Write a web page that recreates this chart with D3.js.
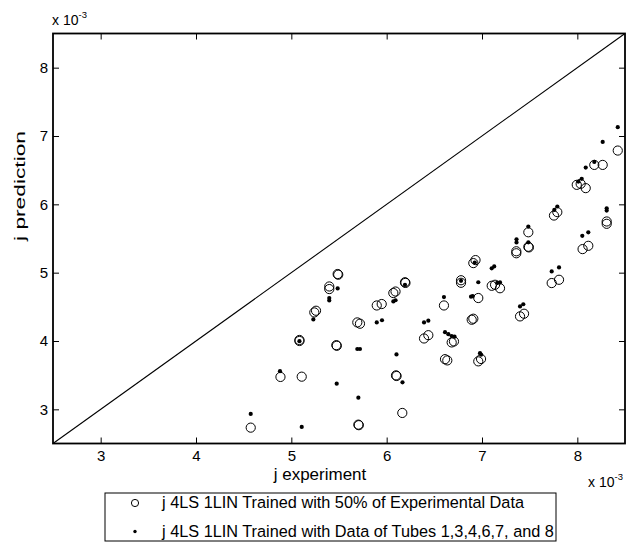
<!DOCTYPE html>
<html>
<head>
<meta charset="utf-8">
<script src="https://cdn.jsdelivr.net/npm/d3@7"></script>
<style>
  html, body { margin: 0; padding: 0; background: #fff; }
  svg { display: block; font-family: "Liberation Sans", Arial, Helvetica, sans-serif; }
</style>
</head>
<body>
<svg id="chart" width="635" height="543"></svg>
<script>
// Values are in units of 1e-3
const ticks = [3, 4, 5, 6, 7, 8];
const domain = [2.5, 8.5];
const diagonal = [2.5, 8.5];

// Series 1: open circles — trained with 50% of experimental data
const circleX = [4.574, 4.886, 5.109, 5.085, 5.085, 5.241, 5.259, 5.398, 5.398, 5.486, 5.492, 5.472, 5.477,
  5.692, 5.720, 5.703, 5.708, 5.896, 5.948, 6.070, 6.093, 6.192, 6.197, 6.098, 6.104, 6.164, 6.392, 6.437,
  6.601, 6.612, 6.636, 6.682, 6.706, 6.780, 6.780, 6.909, 6.932, 6.961, 6.892, 6.909, 6.961, 6.990,
  7.102, 7.137, 7.189, 7.360, 7.360, 7.486, 7.486, 7.492, 7.399, 7.441, 7.731, 7.808, 7.755, 7.790,
  8.055, 8.115, 7.994, 8.035, 8.088, 8.178, 8.266, 8.308, 8.308, 8.424];
const circleY = [2.732, 3.474, 3.478, 4.000, 4.015, 4.418, 4.443, 4.798, 4.760, 4.980, 4.970, 3.939, 3.930,
  4.272, 4.253, 2.776, 2.768, 4.520, 4.541, 4.702, 4.724, 4.860, 4.850, 3.497, 3.488, 2.947, 4.037, 4.085,
  4.520, 3.734, 3.716, 3.979, 3.994, 4.889, 4.852, 5.140, 5.184, 4.629, 4.311, 4.326, 3.702, 3.737,
  4.808, 4.823, 4.772, 5.313, 5.284, 5.591, 5.379, 5.370, 4.360, 4.399, 4.848, 4.896, 5.836, 5.886,
  5.345, 5.393, 6.285, 6.300, 6.237, 6.577, 6.577, 5.749, 5.715, 6.787];

// Series 2: dots — trained with data of tubes 1,3,4,6,7 and 8
const dotX = [4.574, 4.881, 5.109, 5.085, 5.231, 5.398, 5.398, 5.486, 5.476, 5.692, 5.720, 5.703,
  5.896, 5.951, 6.070, 6.093, 6.192, 6.103, 6.166, 6.392, 6.437, 6.601, 6.612, 6.647, 6.682, 6.712,
  6.780, 6.924, 6.961, 6.885, 6.903, 6.979, 6.990, 7.102, 7.128, 7.160, 7.189, 7.362, 7.362, 7.486,
  7.486, 7.399, 7.433, 7.731, 7.808, 7.759, 7.790, 8.052, 8.115, 8.010, 8.046, 8.088, 8.178, 8.266,
  8.308, 8.308, 8.424];
const dotY = [2.933, 3.558, 2.743, 3.997, 4.316, 4.629, 4.594, 4.769, 3.376, 3.883, 3.883, 3.171,
  4.272, 4.304, 4.579, 4.596, 4.823, 3.804, 3.395, 4.272, 4.297, 4.643, 4.129, 4.100, 4.073, 4.063,
  4.881, 5.149, 4.860, 4.648, 4.658, 3.822, 3.800, 5.064, 5.091, 4.852, 4.857, 5.488, 5.442, 5.675,
  5.444, 4.506, 4.538, 5.018, 5.076, 5.920, 5.968, 5.539, 5.591, 6.333, 6.373, 6.538, 6.621, 6.914,
  5.942, 5.909, 7.129];

const legendLabels = [
  "j 4LS 1LIN Trained with 50% of Experimental Data",
  "j 4LS 1LIN Trained with Data of Tubes 1,3,4,6,7, and 8"
];

const svg = d3.select("#chart");
const L = 53, R = 625, T = 33.5, B = 443.5;
const x = d3.scaleLinear().domain(domain).range([L, R]);
const y = d3.scaleLinear().domain(domain).range([B, T]);

const tickFont = "15px";

// Axes
const gx = svg.append("g").attr("transform", `translate(0,${B})`)
  .call(d3.axisBottom(x).tickValues(ticks).tickSizeInner(-6).tickSizeOuter(0).tickPadding(7).tickFormat(d3.format("d")));
const gy = svg.append("g").attr("transform", `translate(${L},0)`)
  .call(d3.axisLeft(y).tickValues(ticks).tickSizeInner(-6).tickSizeOuter(0).tickPadding(5).tickFormat(d3.format("d")));
const gt = svg.append("g").attr("transform", `translate(0,${T})`)
  .call(d3.axisTop(x).tickValues(ticks).tickSizeInner(-6).tickSizeOuter(0).tickFormat(""));
const gr = svg.append("g").attr("transform", `translate(${R},0)`)
  .call(d3.axisRight(y).tickValues(ticks).tickSizeInner(-6).tickSizeOuter(0).tickFormat(""));

[gx, gy, gt, gr].forEach(g => {
  g.select(".domain").remove();
  g.selectAll(".tick line").attr("stroke", "#000").attr("stroke-width", 1);
  g.selectAll(".tick text").attr("fill", "#000").style("font-size", tickFont)
    .style("font-family", "'Liberation Sans', Arial, sans-serif");
});

// Box
svg.append("rect").attr("x", L).attr("y", T).attr("width", R - L).attr("height", B - T)
  .attr("fill", "none").attr("stroke", "#000").attr("stroke-width", 1.8);

// Diagonal
svg.append("line")
  .attr("x1", x(diagonal[0])).attr("y1", y(diagonal[0]))
  .attr("x2", x(diagonal[1])).attr("y2", y(diagonal[1]))
  .attr("stroke", "#000").attr("stroke-width", 1.1);

// Circles
svg.append("g").selectAll("circle").data(d3.range(circleX.length)).join("circle")
  .attr("cx", i => x(circleX[i])).attr("cy", i => y(circleY[i])).attr("r", 4.6)
  .attr("fill", "none").attr("stroke", "#000").attr("stroke-width", 1);

// Dots
svg.append("g").selectAll("circle").data(d3.range(dotX.length)).join("circle")
  .attr("cx", i => x(dotX[i])).attr("cy", i => y(dotY[i])).attr("r", 2.1)
  .attr("fill", "#000");

// Exponent labels
function expLabel(xp, yp) {
  const t = svg.append("text").attr("x", xp).attr("y", yp).attr("fill", "#000").style("font-size", "14px");
  t.append("tspan").text("x 10");
  t.append("tspan").attr("dy", -7).style("font-size", "9.5px").text("-3");
}
expLabel(52, 25);
expLabel(588, 487);

// Axis labels
svg.append("text").attr("x", 320).attr("y", 480).attr("text-anchor", "middle")
  .attr("fill", "#000").style("font-size", "17px").text("j experiment");
svg.append("text").attr("transform", "translate(25,186) rotate(-90)").attr("text-anchor", "middle")
  .attr("fill", "#000").style("font-size", "15px")
  .attr("textLength", 110).attr("lengthAdjust", "spacingAndGlyphs").text("j prediction");

// Legend
const lg = svg.append("g");
lg.append("rect").attr("x", 105).attr("y", 493).attr("width", 451).attr("height", 48)
  .attr("fill", "#fff").attr("stroke", "#000").attr("stroke-width", 1);
lg.append("circle").attr("cx", 135).attr("cy", 503).attr("r", 3.6)
  .attr("fill", "none").attr("stroke", "#000").attr("stroke-width", 1);
lg.append("circle").attr("cx", 135).attr("cy", 531.5).attr("r", 1.7).attr("fill", "#000");
lg.selectAll("text").data(legendLabels).join("text")
  .attr("x", 162).attr("y", (d, i) => 508 + i * 28.5)
  .attr("fill", "#000").style("font-size", "16.3px").text(d => d);
</script>
</body>
</html>
